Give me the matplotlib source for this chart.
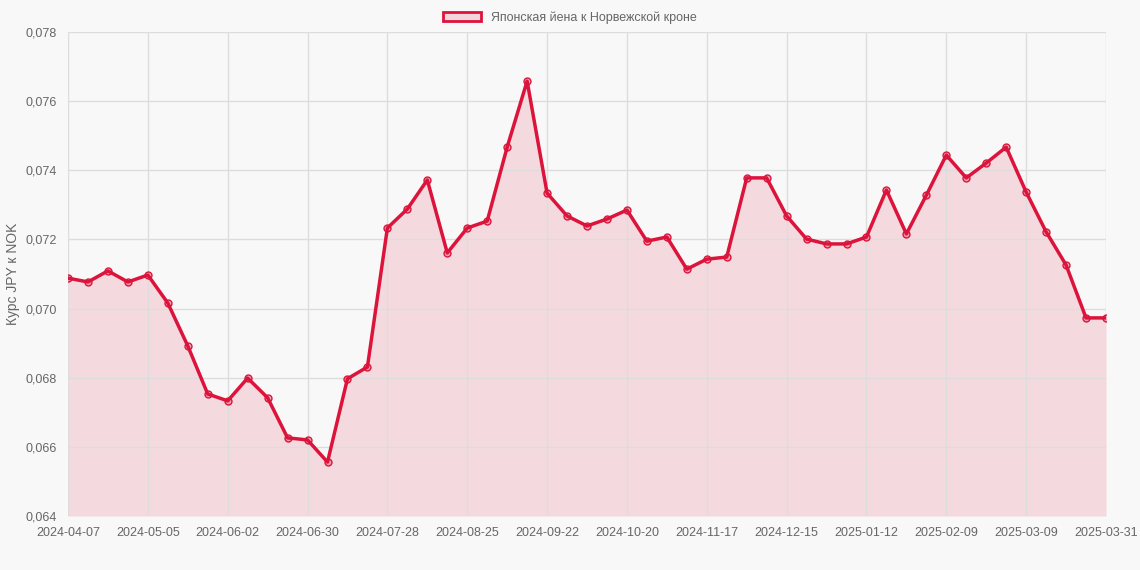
import matplotlib
matplotlib.use("Agg")
import matplotlib.pyplot as plt
import pandas as pd
from matplotlib.patches import Patch

plt.rcParams['font.family'] = ['Liberation Sans', 'DejaVu Sans']

dates = [d.strftime("%Y-%m-%d") for d in pd.date_range("2024-04-07", periods=52, freq="7D")] + ["2025-03-31"]
values = [0.07088, 0.07077, 0.07109, 0.07077, 0.07097, 0.07016, 0.06892, 0.06753, 0.06733, 0.06799,
          0.06742, 0.06626, 0.06620, 0.06556, 0.06797, 0.06831, 0.07233, 0.07288, 0.07372, 0.07161,
          0.07233, 0.07253, 0.07467, 0.07658, 0.07334, 0.07268, 0.07239, 0.07259, 0.07285, 0.07195,
          0.07207, 0.07114, 0.07143, 0.07149, 0.07378, 0.07378, 0.07268, 0.07201, 0.07187, 0.07187,
          0.07207, 0.07343, 0.07216, 0.07328, 0.07444, 0.07378, 0.07421, 0.07467, 0.07337, 0.07222,
          0.07126, 0.06973, 0.06973]
label = "Японская йена к Норвежской кроне"
yticks = [0.064, 0.066, 0.068, 0.070, 0.072, 0.074, 0.076, 0.078]

bg = "#f8f8f8"
red = "#dc143c"
fig = plt.figure(figsize=(11.4, 5.7), dpi=100, facecolor=bg)
ax = fig.add_axes([68/1140, 1-516/570, (1106-68)/1140, (516-32)/570], facecolor=bg)
x = list(range(len(values)))
ax.fill_between(x, values, 0.064, color=red, alpha=0.13, linewidth=0)
ax.plot(x, values, color=red, lw=2.5, marker="o", ms=5, mfc=(0.86, 0.08, 0.24, 0.3), mec=red, mew=1)
ax.set_xlim(0, len(values)-1)
ax.set_ylim(0.064, 0.078)
ticks = list(range(0, 49, 4)) + [52]
ax.set_xticks(ticks)
ax.set_xticklabels([dates[i] for i in ticks])
ax.set_yticks(yticks)
ax.set_yticklabels([f"{v:.3f}".replace(".", ",") for v in yticks])
ax.grid(True, color="#dddddd", lw=1)
ax.tick_params(colors="#666666", labelsize=9, length=0, pad=8)
for s in ax.spines.values():
    s.set_visible(False)
ax.set_ylabel("Курс JPY к NOK", color="#666666", fontsize=10)
fig.legend(handles=[Patch(facecolor=(0.86, 0.08, 0.24, 0.15), edgecolor=red, lw=2, label=label)],
           loc="upper center", bbox_to_anchor=(0.5, 1.0), frameon=False, fontsize=9,
           labelcolor="#666666", handlelength=3)
fig.savefig("out.png", dpi=100, facecolor=bg)
